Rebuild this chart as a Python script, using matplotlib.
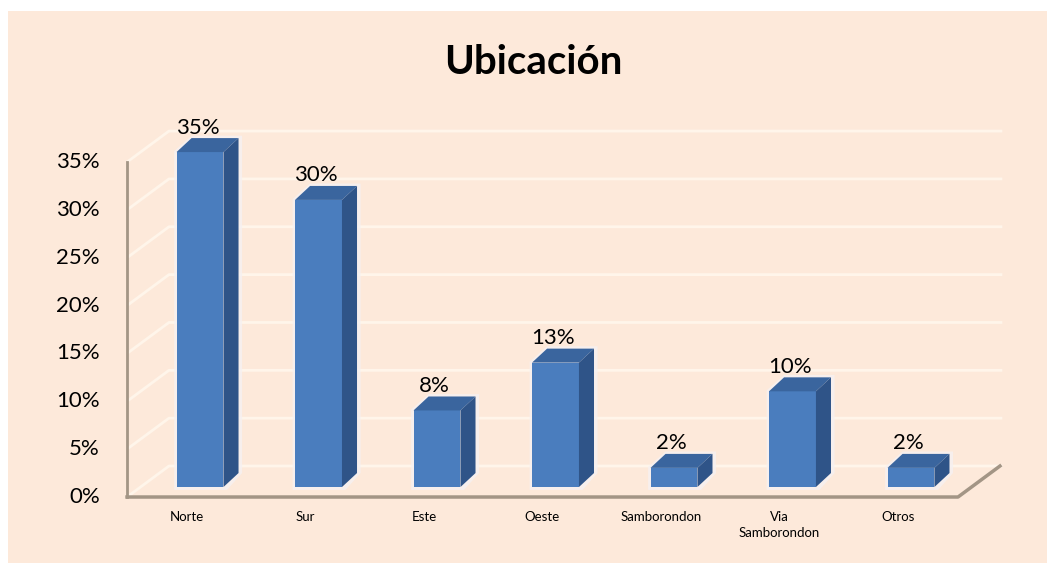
import matplotlib.pyplot as plt
from matplotlib.patches import Polygon, Rectangle

categorias = ['Norte', 'Sur', 'Este', 'Oeste', 'Samborondon', 'Via\nSamborondon', 'Otros']
valores = [35, 30, 8, 13, 2, 10, 2]
ticks = [0, 5, 10, 15, 20, 25, 30, 35]

plt.rcParams['font.family'] = ['Lato', 'DejaVu Sans']

BG = '#FDE9DA'
GRID = '#FFF5EA'
AXIS = '#A39585'
FRONT = '#4A7DBE'
TOP = '#3A659E'
SIDE = '#2F5488'

fig = plt.figure(figsize=(10.47, 5.63), dpi=100)
fig.patch.set_facecolor('white')
# fondo del grafico (deja un margen blanco arriba y a la izquierda)
fig.patches.append(Rectangle((8 / 1047, 0), 1, 1 - 11 / 563, transform=fig.transFigure,
                             facecolor=BG, edgecolor='none', zorder=-10))

ax = fig.add_axes([0, 0, 1, 1])
ax.set_xlim(-1.688, 7.148)
ax.set_ylim(-7.94, 50.89)
ax.axis('off')
ax.patch.set_alpha(0)

# pseudo 3D: desplazamiento de profundidad de la pared y de las barras
x_izq = -0.616
x_der = 6.397
piso = -1.045
DX, DY = 0.354, 3.24
bw = 0.198
bdx, bdy = 0.127, 1.46

# rejilla: diagonales en la pared izquierda y horizontales en el fondo
for t in ticks:
    y0 = t + piso
    ax.plot([x_izq, x_izq + DX, x_der + DX + 0.02], [y0, y0 + DY, y0 + DY],
            color=GRID, lw=2, zorder=1, solid_capstyle='butt')

# ejes
ax.plot([x_izq, x_izq], [piso, 35 + piso], color=AXIS, lw=2, zorder=2)
ax.plot([x_izq, x_der, x_der + DX], [piso, piso, piso + DY], color=AXIS, lw=2.5, zorder=2)

for t in ticks:
    ax.text(x_izq - 0.23, t + piso, f'{t}%', ha='right', va='center', fontsize=16, color='black')

for i, (cat, v) in enumerate(zip(categorias, valores)):
    xl, xr = i - bw, i + bw
    # halo claro detras de la barra
    ax.add_patch(Polygon([(xl - 0.02, -0.3), (xr + 0.03, -0.3), (xr + bdx + 0.03, bdy),
                          (xr + bdx + 0.03, v + bdy + 0.25), (xl + bdx, v + bdy + 0.25),
                          (xl - 0.02, v + 0.1)],
                         closed=True, facecolor='#F6F1F2', edgecolor='none', alpha=0.8, zorder=2))
    ax.add_patch(Rectangle((xl, 0), 2 * bw, v, facecolor=FRONT, edgecolor='none', zorder=3))
    ax.add_patch(Polygon([(xl, v), (xr, v), (xr + bdx, v + bdy), (xl + bdx, v + bdy)],
                         closed=True, facecolor=TOP, edgecolor='none', zorder=3))
    ax.add_patch(Polygon([(xr, 0), (xr + bdx, bdy), (xr + bdx, v + bdy), (xr, v)],
                         closed=True, facecolor=SIDE, edgecolor='none', zorder=3))
    ax.text(i - 0.02, v + bdy + 0.05, f'{v}%', ha='center', va='bottom', fontsize=16, color='black', zorder=4)
    ax.text(i - 0.11, -2.55, cat, ha='center', va='top', fontsize=9.5, color='black',
            linespacing=1.35)

ax.text(2.816, 44.4, 'Ubicación', ha='center', va='center', fontsize=29, fontweight='bold', color='black')

fig.savefig('out.png', dpi=100, facecolor=fig.get_facecolor())
